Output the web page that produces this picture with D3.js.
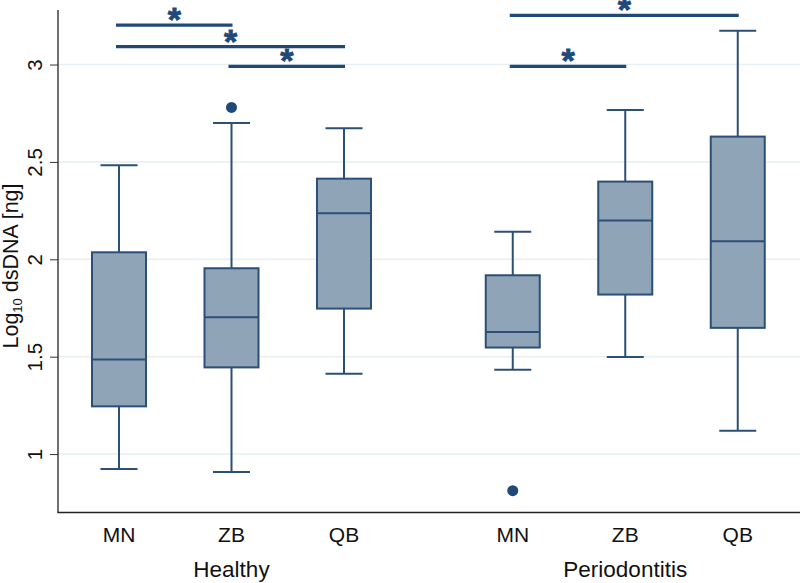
<!DOCTYPE html>
<html>
<head>
<meta charset="utf-8">
<script src="https://cdn.jsdelivr.net/npm/d3@7"></script>
<style>
  body { margin: 0; background: #fff; }
  text { font-family: "Liberation Sans", Arial, sans-serif; }
</style>
</head>
<body>
<div id="chart"></div>
<script>
// groups and categories
var groups = ["Healthy", "Periodontitis"];
var categories = ["MN", "ZB", "QB"];
// box stats per box: [lowerWhisker, q1, median, q3, upperWhisker]
var healthyStats = [
  [0.923, 1.245, 1.485, 2.036, 2.483],
  [0.908, 1.445, 1.702, 1.954, 2.700],
  [1.413, 1.747, 2.236, 2.414, 2.673]
];
var perioStats = [
  [1.433, 1.547, 1.627, 1.918, 2.141],
  [1.499, 1.819, 2.199, 2.399, 2.767],
  [1.120, 1.648, 2.093, 2.630, 3.173]
];
var healthyOutliers = [[], [2.78], []];
var perioOutliers = [[0.812], [], []];
var yTicks = [1, 1.5, 2, 2.5, 3];
// significance brackets: [fromBox, toBox, value]  (box index 0..5)
var sigBars = [
  [0, 1, 3.202],
  [0, 2, 3.092],
  [1, 2, 2.991],
  [3, 5, 3.252],
  [3, 4, 2.991]
];

var W = 800, H = 583;
var navy = "#1f4a78", boxLine = "#2c4f75", boxFill = "#8fa4b7";

var svg = d3.select("#chart").append("svg")
  .attr("width", W).attr("height", H);

// box positions: 0,1,2 and 3.5,4.5,5.5
var pos = [0, 1, 2, 3.5, 4.5, 5.5];
var x = d3.scaleLinear().domain([0, 5.5]).range([119, 737.75]);
var y = d3.scaleLinear().domain([0.7, 3.28]).range([512.5, 10]);
var boxW = 54;

var boxes = [];
healthyStats.forEach(function(s, i) { boxes.push({s: s, out: healthyOutliers[i], p: pos[i], cat: categories[i]}); });
perioStats.forEach(function(s, i) { boxes.push({s: s, out: perioOutliers[i], p: pos[i + 3], cat: categories[i]}); });

// gridlines
svg.append("g").selectAll("line").data(yTicks).enter().append("line")
  .attr("x1", 58).attr("x2", W)
  .attr("y1", d => y(d)).attr("y2", d => y(d))
  .attr("stroke", "#e6eff4").attr("stroke-width", 1.5);

// y axis
var yAxis = svg.append("g").attr("transform", "translate(58,0)")
  .call(d3.axisLeft(y).tickValues(yTicks).tickSize(8).tickFormat(d3.format("")));
yAxis.select(".domain").attr("d", "M0," + y(3.28) + "V" + y(0.7)).attr("stroke", "#222").attr("stroke-width", 1.3);
yAxis.selectAll(".tick line").attr("stroke", "#333");
yAxis.selectAll(".tick text")
  .attr("x", 0).attr("dy", 0)
  .attr("transform", "translate(-16,0) rotate(-90)")
  .attr("text-anchor", "middle")
  .attr("font-size", 20.5).attr("fill", "#111")
  .attr("font-family", "Liberation Sans, Arial, sans-serif");

// x axis line
svg.append("line").attr("x1", 57.4).attr("x2", W)
  .attr("y1", y(0.7)).attr("y2", y(0.7))
  .attr("stroke", "#222").attr("stroke-width", 1.3);

// y title
var yt = svg.append("text")
  .attr("transform", "translate(18," + 266 + ") rotate(-90)")
  .attr("text-anchor", "middle").attr("font-size", 21.5).attr("fill", "#111");
yt.append("tspan").text("Log");
yt.append("tspan").text("10").attr("font-size", 13).attr("dy", 4);
yt.append("tspan").text(" dsDNA [ng]").attr("dy", -4);

// boxes
var g = svg.append("g").selectAll("g").data(boxes).enter().append("g");
g.append("line")
  .attr("x1", d => x(d.p)).attr("x2", d => x(d.p))
  .attr("y1", d => y(d.s[0])).attr("y2", d => y(d.s[4]))
  .attr("stroke", boxLine).attr("stroke-width", 2);
g.selectAll(".cap").data(d => [[d.p, d.s[0]], [d.p, d.s[4]]]).enter().append("line")
  .attr("x1", d => x(d[0]) - 18.5).attr("x2", d => x(d[0]) + 18.5)
  .attr("y1", d => y(d[1])).attr("y2", d => y(d[1]))
  .attr("stroke", boxLine).attr("stroke-width", 2);
g.append("rect")
  .attr("x", d => x(d.p) - boxW / 2).attr("width", boxW)
  .attr("y", d => y(d.s[3])).attr("height", d => y(d.s[1]) - y(d.s[3]))
  .attr("fill", boxFill).attr("stroke", boxLine).attr("stroke-width", 2);
g.append("line")
  .attr("x1", d => x(d.p) - boxW / 2).attr("x2", d => x(d.p) + boxW / 2)
  .attr("y1", d => y(d.s[2])).attr("y2", d => y(d.s[2]))
  .attr("stroke", boxLine).attr("stroke-width", 2);
g.selectAll("circle").data(d => d.out.map(v => [d.p, v])).enter().append("circle")
  .attr("cx", d => x(d[0])).attr("cy", d => y(d[1])).attr("r", 5.5)
  .attr("fill", navy);

// category labels
svg.append("g").selectAll("text").data(boxes).enter().append("text")
  .attr("x", d => x(d.p)).attr("y", 542)
  .attr("text-anchor", "middle").attr("font-size", 21).attr("fill", "#111")
  .text(d => d.cat);

// group labels
svg.append("g").selectAll("text").data(groups).enter().append("text")
  .attr("x", (d, i) => x(pos[i * 3 + 1])).attr("y", 577)
  .attr("text-anchor", "middle").attr("font-size", 22.5).attr("fill", "#111")
  .text(d => d);

// significance bars
var sg = svg.append("g").selectAll("g").data(sigBars).enter().append("g");
sg.append("line")
  .attr("x1", d => x(pos[d[0]]) - 3).attr("x2", d => x(pos[d[1]]) + 1)
  .attr("y1", d => y(d[2])).attr("y2", d => y(d[2]))
  .attr("stroke", navy).attr("stroke-width", 3.2);
sg.append("text")
  .attr("x", d => (x(pos[d[0]]) + x(pos[d[1]])) / 2 - 1)
  .attr("y", d => y(d[2]) + 6)
  .attr("text-anchor", "middle").attr("font-size", 34).attr("font-weight", "bold")
  .attr("fill", navy).attr("stroke", navy).attr("stroke-width", 0.8)
  .text("*");
</script>
</body>
</html>
